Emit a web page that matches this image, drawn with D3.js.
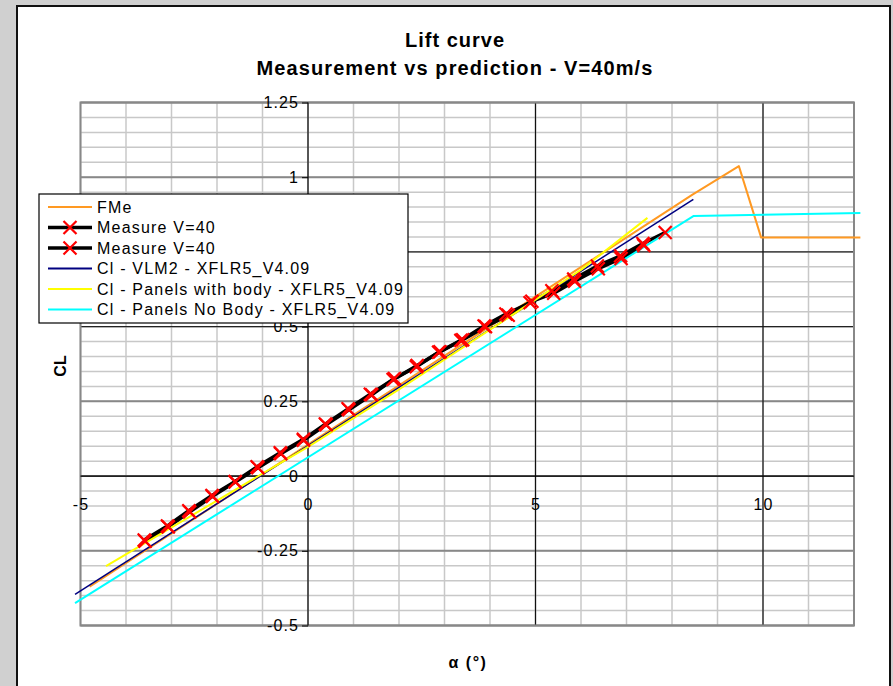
<!DOCTYPE html>
<html>
<head>
<meta charset="utf-8">
<script src="https://cdn.jsdelivr.net/npm/d3@7"></script>
<style>
  html, body { margin: 0; padding: 0; background: #d0d0d0; }
  svg { display: block; }
  text { font-family: Arial, "Liberation Sans", sans-serif; }
</style>
</head>
<body>
<div id="chart"></div>
<script>
// Lift curve data
const fmeAlpha = [-4.8, 8.45, 9.47, 9.96, 12.14];
const fmeCl = [-0.37, 0.942, 1.037, 0.798, 0.798];

const measureAAlpha = [-3.6, -3.09, -2.62, -2.11, -1.6, -1.12, -0.61, -0.1, 0.38, 0.88, 1.37, 1.87,
  2.38, 2.87, 3.36, 3.87, 4.35, 4.88, 5.36, 5.84, 6.36, 6.87, 7.36, 7.85];
const measureACl = [-0.214, -0.167, -0.116, -0.065, -0.018, 0.031, 0.078, 0.123, 0.174, 0.225, 0.274, 0.323,
  0.366, 0.414, 0.454, 0.502, 0.542, 0.58, 0.62, 0.659, 0.703, 0.737, 0.778, 0.815];

const measureBAlpha = [-3.58, -3.07, -2.6, -2.1, -1.6, -1.1, -0.6, -0.1, 0.4, 0.9, 1.4, 1.9,
  2.4, 2.9, 3.4, 3.9, 4.4, 4.92, 5.4, 5.86, 6.38, 6.88, 7.38];
const measureBCl = [-0.218, -0.17, -0.12, -0.068, -0.02, 0.028, 0.075, 0.12, 0.172, 0.222, 0.272, 0.326,
  0.37, 0.416, 0.456, 0.5, 0.538, 0.585, 0.612, 0.652, 0.694, 0.728, 0.772];

const vlmAlpha = [-5.12, 8.47];
const vlmCl = [-0.396, 0.926];

const bodyAlpha = [-4.44, -2, 0, 2, 4, 6, 7.46];
const bodyCl = [-0.301, -0.082, 0.098, 0.29, 0.49, 0.69, 0.864];

const noBodyAlpha = [-5.12, 8.47, 12.14];
const noBodyCl = [-0.425, 0.87, 0.88];

const xTicks = [-5, 0, 5, 10];
const yTicks = [-0.5, -0.25, 0, 0.25, 0.5, 0.75, 1, 1.25];

const series = [
  { label: 'FMe', alpha: fmeAlpha, cl: fmeCl, color: '#ff9922', width: 2, marker: false },
  { label: 'Measure V=40', alpha: measureAAlpha, cl: measureACl, color: '#000000', width: 3.5, marker: true },
  { label: 'Measure V=40', alpha: measureBAlpha, cl: measureBCl, color: '#000000', width: 3.5, marker: true },
  { label: 'Cl - VLM2 - XFLR5_V4.09', alpha: vlmAlpha, cl: vlmCl, color: '#000080', width: 1.5, marker: false },
  { label: 'Cl - Panels with body - XFLR5_V4.09', alpha: bodyAlpha, cl: bodyCl, color: '#ffff00', width: 2, marker: false },
  { label: 'Cl - Panels No Body - XFLR5_V4.09', alpha: noBodyAlpha, cl: noBodyCl, color: '#00ffff', width: 2, marker: false }
];

const W = 893, H = 686;
const plot = { left: 80.5, right: 854, top: 102.5, bottom: 625.5 };

const svg = d3.select('#chart').append('svg')
  .attr('width', W)
  .attr('height', H);

// Chart area
svg.append('rect')
  .attr('x', 17).attr('y', 6)
  .attr('width', 873).attr('height', 700)
  .attr('fill', '#ffffff')
  .attr('stroke', '#111').attr('stroke-width', 2);

// Scales
const x = d3.scaleLinear().domain([-5, 12]).range([plot.left, plot.right]);
const y = d3.scaleLinear().domain([-0.5, 1.25]).range([plot.bottom, plot.top]);

// Title
svg.append('text')
  .attr('x', 455).attr('y', 47)
  .attr('text-anchor', 'middle')
  .attr('font-size', '20px').attr('font-weight', 'bold')
  .attr('letter-spacing', '1px')
  .text('Lift curve');
svg.append('text')
  .attr('x', 455).attr('y', 75)
  .attr('text-anchor', 'middle')
  .attr('font-size', '20px').attr('font-weight', 'bold')
  .attr('letter-spacing', '1.1px')
  .text('Measurement vs prediction - V=40m/s');

// Grid
const grid = svg.append('g').attr('class', 'grid');

// minor horizontal lines every 0.05
d3.range(-0.5, 1.2501, 0.05).forEach(v => {
  grid.append('line')
    .attr('x1', plot.left).attr('x2', plot.right)
    .attr('y1', y(v)).attr('y2', y(v))
    .attr('stroke', '#c8c8c8').attr('stroke-width', 1.5);
});
// minor vertical lines every 1 deg
d3.range(-5, 12.01, 1).forEach(v => {
  grid.append('line')
    .attr('x1', x(v)).attr('x2', x(v))
    .attr('y1', plot.top).attr('y2', plot.bottom)
    .attr('stroke', '#c8c8c8').attr('stroke-width', 1.5);
});
// major horizontal lines
yTicks.forEach(v => {
  const dark = v === 0.5 || v === 0.75;
  grid.append('line')
    .attr('x1', plot.left).attr('x2', plot.right)
    .attr('y1', y(v)).attr('y2', y(v))
    .attr('stroke', dark ? '#222' : '#888').attr('stroke-width', dark ? 1.2 : 2);
});
// major vertical lines
[5, 10].forEach(v => {
  grid.append('line')
    .attr('x1', x(v)).attr('x2', x(v))
    .attr('y1', plot.top).attr('y2', plot.bottom)
    .attr('stroke', '#111').attr('stroke-width', 1.2);
});
// plot border
grid.append('rect')
  .attr('x', plot.left).attr('y', plot.top)
  .attr('width', plot.right - plot.left).attr('height', plot.bottom - plot.top)
  .attr('fill', 'none')
  .attr('stroke', '#888').attr('stroke-width', 2);

// Axes crossing at zero
const xAxis = d3.axisBottom(x)
  .tickValues(xTicks)
  .tickFormat(d => String(d))
  .tickSize(0)
  .tickPadding(23);
const yAxis = d3.axisLeft(y)
  .tickValues(yTicks)
  .tickFormat(d => String(d))
  .tickSize(6)
  .tickPadding(3);

const xAxisGroup = svg.append('g')
  .attr('transform', `translate(0,${y(0)})`)
  .call(xAxis);
const yAxisGroup = svg.append('g')
  .attr('transform', `translate(${x(0)},0)`)
  .call(yAxis);

[xAxisGroup, yAxisGroup].forEach(g => {
  g.select('.domain').attr('stroke', '#000').attr('stroke-width', 1.2);
  g.selectAll('.tick line').attr('stroke', '#000');
  g.selectAll('.tick text')
    .attr('fill', '#000')
    .attr('font-size', '16px')
    .attr('letter-spacing', '1.1px')
    .attr('font-family', 'Arial, "Liberation Sans", sans-serif');
});
xAxisGroup.select('.domain').attr('d', `M${plot.left},0H${plot.right}`);
yAxisGroup.select('.domain').attr('d', `M0,${plot.top}V${plot.bottom}`);

// Axis titles
svg.append('text')
  .attr('transform', `translate(66,366) rotate(-90)`)
  .attr('text-anchor', 'middle')
  .attr('font-size', '16px').attr('font-weight', 'bold')
  .text('CL');
svg.append('text')
  .attr('x', 468).attr('y', 668)
  .attr('text-anchor', 'middle')
  .attr('font-size', '16px').attr('font-weight', 'bold')
  .attr('letter-spacing', '1.5px')
  .text('α (°)');

// Series lines (not clipped, as in the original)
const line = d3.line()
  .x(d => x(d[0]))
  .y(d => y(d[1]));

const linesGroup = svg.append('g').attr('class', 'lines');
series.forEach(s => {
  const pts = s.alpha.map((a, i) => [a, s.cl[i]]);
  linesGroup.append('path')
    .datum(pts)
    .attr('d', line)
    .attr('fill', 'none')
    .attr('stroke', s.color)
    .attr('stroke-width', s.width)
    .attr('stroke-linejoin', 'round');
});

// Red cross markers
function cross(g, cx, cy) {
  const r = 6.5;
  g.append('path')
    .attr('d', `M${cx - r},${cy - r}L${cx + r},${cy + r}M${cx - r},${cy + r}L${cx + r},${cy - r}`)
    .attr('stroke', '#ff0000')
    .attr('stroke-width', 2.2)
    .attr('fill', 'none');
}
const markersGroup = svg.append('g').attr('class', 'markers');
series.filter(s => s.marker).forEach(s => {
  s.alpha.forEach((a, i) => cross(markersGroup, x(a), y(s.cl[i])));
});

// Legend
const legend = svg.append('g').attr('class', 'legend');
legend.append('rect')
  .attr('x', 39).attr('y', 194)
  .attr('width', 369).attr('height', 129)
  .attr('fill', '#fff')
  .attr('stroke', '#000').attr('stroke-width', 1.2);

series.forEach((s, i) => {
  const ly = 207 + i * 20.5;
  legend.append('line')
    .attr('x1', 48).attr('x2', 92)
    .attr('y1', ly).attr('y2', ly)
    .attr('stroke', s.color)
    .attr('stroke-width', s.marker ? 3.5 : 2);
  if (s.marker) cross(legend, 70, ly);
  legend.append('text')
    .attr('x', 97).attr('y', ly)
    .attr('dy', '0.35em')
    .attr('font-size', '16px')
    .attr('letter-spacing', '1.2px')
    .text(s.label);
});
</script>
</body>
</html>
